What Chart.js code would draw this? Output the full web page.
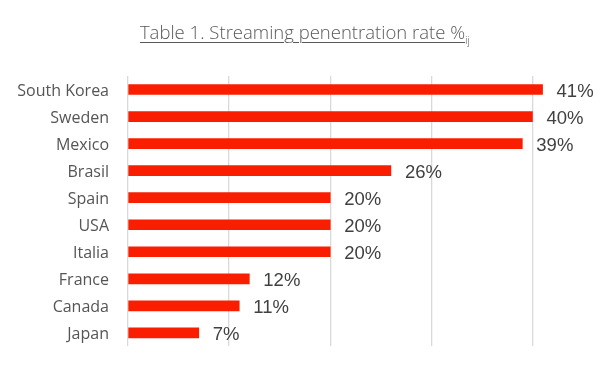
<!DOCTYPE html>
<html>
<head>
<meta charset="utf-8">
<script src="https://cdn.jsdelivr.net/npm/chart.js@4/dist/chart.umd.min.js"></script>
<style>
  body { margin: 0; background: #fff; }
  #wrap { position: relative; width: 610px; height: 375px; }
  #title {
    position: absolute; top: 19px; left: 0; width: 610px; text-align: center;
    font-family: "Open Sans", "Noto Sans", sans-serif; font-weight: 300;
    font-size: 18.5px; color: #595959;
  }
  #title u { text-underline-offset: 3px; text-decoration-thickness: 1px; }
  #title sub { font-size: 11px; }
</style>
</head>
<body>
<div id="wrap">
  <canvas id="barChart" width="610" height="375"></canvas>
  <div id="title"><u>Table 1. Streaming penentration rate %<sub>ij</sub></u></div>
</div>
<script>
const countries = ["South Korea", "Sweden", "Mexico", "Brasil", "Spain", "USA", "Italia", "France", "Canada", "Japan"];
const penetration = [41, 40, 39, 26, 20, 20, 20, 12, 11, 7];
const gridSteps = [0, 10, 20, 30, 40];

// writes "41%" etc. to the right of each bar
const valueLabels = {
  id: "valueLabels",
  afterDatasetsDraw(chart) {
    const ctx = chart.ctx;
    const meta = chart.getDatasetMeta(0);
    ctx.save();
    ctx.font = "18.5px 'Liberation Sans', Arial, sans-serif";
    ctx.fillStyle = "#404040";
    ctx.textAlign = "left";
    ctx.textBaseline = "middle";
    meta.data.forEach((bar, i) => {
      ctx.fillText(penetration[i] + "%", bar.x + 14, bar.y + 2);
    });
    ctx.restore();
  }
};

const showElement = document.getElementById("barChart");
new Chart(showElement, {
  type: "bar",
  data: {
    labels: countries,
    datasets: [
      {
        data: penetration,
        backgroundColor: "#FA1E00",
        barThickness: 10
      }
    ]
  },
  options: {
    indexAxis: "y",
    responsive: false,
    animation: false,
    layout: { padding: { top: 76, bottom: 28, right: 27, left: 0 } },
    plugins: { legend: { display: false }, tooltip: { enabled: false } },
    scales: {
      x: {
        min: 0,
        max: 45,
        afterBuildTicks: (scale) => { scale.ticks = gridSteps.map(v => ({ value: v })); },
        ticks: { display: false },
        grid: { color: "#d9d9d9", lineWidth: 1.3, drawTicks: false },
        border: { display: false }
      },
      y: {
        afterFit: (scale) => { scale.width = 128; },
        ticks: {
          padding: 19,
          labelOffset: 2,
          color: "#555555",
          font: { family: "'Open Sans', 'Noto Sans', sans-serif", size: 16 }
        },
        grid: { display: false, drawTicks: false },
        border: { display: false }
      }
    }
  },
  plugins: [valueLabels]
});
</script>
</body>
</html>
